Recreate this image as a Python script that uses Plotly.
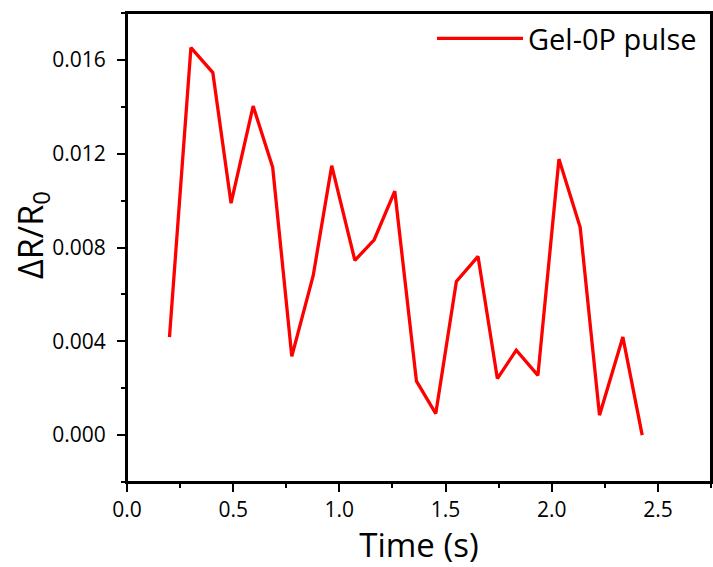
import plotly.graph_objects as go

# Data
time_s = [0.200, 0.301, 0.404, 0.490, 0.594, 0.686, 0.776, 0.877, 0.964, 1.073,
          1.164, 1.261, 1.363, 1.454, 1.551, 1.653, 1.744, 1.833, 1.935, 2.034,
          2.134, 2.225, 2.335, 2.426]
delta_r = [0.00418, 0.01652, 0.01546, 0.00989, 0.01403, 0.01142, 0.00336, 0.00681,
           0.01149, 0.00745, 0.00833, 0.01040, 0.00230, 0.00092, 0.00655, 0.00762,
           0.00241, 0.00362, 0.00255, 0.01177, 0.00886, 0.00085, 0.00418, 0.00000]
series_name = "Gel-0P pulse"
x_ticks = [0.0, 0.5, 1.0, 1.5, 2.0, 2.5]
x_tick_labels = ["0.0", "0.5", "1.0", "1.5", "2.0", "2.5"]
y_ticks = [0.000, 0.004, 0.008, 0.012, 0.016]
y_tick_labels = ["0.000", "0.004", "0.008", "0.012", "0.016"]
x_title = "Time (s)"
y_title = "ΔR/R<sub>0</sub>"

FONT = "Open Sans"

fig = go.Figure()
fig.add_trace(go.Scatter(
    x=time_s, y=delta_r, mode="lines", name=series_name,
    line=dict(color="#FF0000", width=3.3),
))

axis_common = dict(
    showline=True, linecolor="black", linewidth=2, mirror=True,
    ticks="outside", ticklen=8, tickwidth=2, tickcolor="black",
    showgrid=False, zeroline=False, automargin=False,
    tickfont=dict(family=FONT, size=21, color="black"),
)

fig.update_layout(
    width=713, height=567,
    paper_bgcolor="white", plot_bgcolor="white",
    margin=dict(l=127, r=2, t=13, b=85),
    font=dict(family=FONT, color="black"),
    showlegend=True,
    legend=dict(
        x=(702 - 127) / 584, y=1.0, xanchor="right", yanchor="top",
        bgcolor="rgba(0,0,0,0)", font=dict(family=FONT, size=29, color="black"),
        itemwidth=86,
    ),
    xaxis=dict(
        range=[0, 2.75], tickvals=x_ticks, ticktext=x_tick_labels,
        minor=dict(dtick=0.25, tick0=0, ticks="outside", ticklen=4, tickwidth=2, tickcolor="black"),
        title=dict(text=x_title, font=dict(family=FONT, size=33), standoff=3),
        ticklabelstandoff=0,
        **axis_common,
    ),
    yaxis=dict(
        range=[-0.002, 0.018], tickvals=y_ticks, ticktext=y_tick_labels,
        minor=dict(dtick=0.002, tick0=0, ticks="outside", ticklen=4, tickwidth=2, tickcolor="black"),
        ticklabelstandoff=7,
        **axis_common,
    ),
    shapes=[dict(
        type="rect", xref="paper", yref="paper", x0=0, x1=1, y0=0, y1=1,
        line=dict(color="black", width=2), fillcolor="rgba(0,0,0,0)", layer="above",
    )],
    annotations=[dict(
        text=y_title, textangle=-90, xref="paper", yref="paper",
        x=(32 - 127) / 584, y=(482 - 235) / 469, xanchor="center", yanchor="middle",
        showarrow=False, font=dict(family=FONT, size=34, color="black"),
    )],
)

fig.write_html("out.html", config={"displayModeBar": False},
               post_script="document.body.style.margin='0';")
